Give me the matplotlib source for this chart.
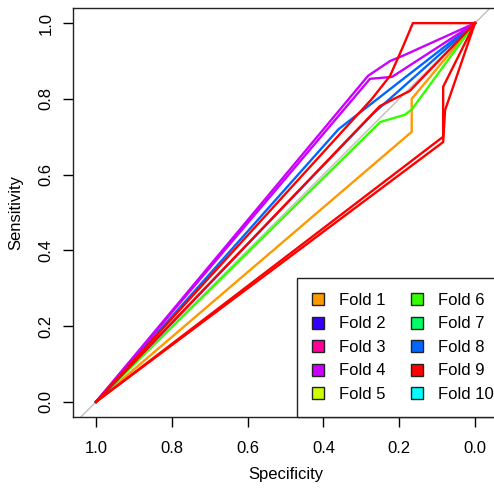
import matplotlib
matplotlib.use("Agg")
import matplotlib.pyplot as plt
from matplotlib.patches import Patch

plt.rcParams['font.family'] = ['Liberation Sans', 'DejaVu Sans']

# legend entries (R rainbow(10) palette)
fold_labels = ["Fold 1", "Fold 2", "Fold 3", "Fold 4", "Fold 5",
               "Fold 6", "Fold 7", "Fold 8", "Fold 9", "Fold 10"]
fold_colors = ["#FF9900", "#3300FF", "#FF0099", "#CC00FF", "#CCFF00",
               "#33FF00", "#00FF66", "#0066FF", "#FF0000", "#00FFFF"]

# ROC curves (specificity, sensitivity)
orange_spec = [1.0, 0.167, 0.167, 0.0]
orange_sens = [0.0, 0.713, 0.800, 1.0]

green_spec = [1.0, 0.250, 0.185, 0.166, 0.0]
green_sens = [0.0, 0.739, 0.758, 0.773, 1.0]

blue_a_spec = [1.0, 0.360, 0.0]
blue_a_sens = [0.0, 0.720, 1.0]
blue_b_spec = [1.0, 0.270, 0.0]
blue_b_sens = [0.0, 0.760, 1.0]

purple_a_spec = [1.0, 0.282, 0.224, 0.190, 0.0]
purple_a_sens = [0.0, 0.861, 0.900, 0.914, 1.0]
purple_b_spec = [1.0, 0.277, 0.219, 0.0]
purple_b_sens = [0.0, 0.853, 0.858, 1.0]

red_a_spec = [1.0, 0.272, 0.224, 0.190, 0.164, 0.0]
red_a_sens = [0.0, 0.800, 0.861, 0.938, 1.0, 1.0]
red_b_spec = [1.0, 0.251, 0.172, 0.0]
red_b_sens = [0.0, 0.781, 0.821, 1.0]
red_c_spec = [1.0, 0.084, 0.084, 0.0]
red_c_sens = [0.0, 0.700, 0.832, 1.0]
red_d_spec = [1.0, 0.084, 0.079, 0.0]
red_d_sens = [0.0, 0.686, 0.770, 1.0]

curves = [
    (orange_spec, orange_sens, "#FF9900"),
    (green_spec, green_sens, "#33FF00"),
    (blue_a_spec, blue_a_sens, "#0066FF"),
    (blue_b_spec, blue_b_sens, "#0066FF"),
    (purple_a_spec, purple_a_sens, "#CC00FF"),
    (purple_b_spec, purple_b_sens, "#CC00FF"),
    (red_a_spec, red_a_sens, "#FF0000"),
    (red_b_spec, red_b_sens, "#FF0000"),
    (red_c_spec, red_c_sens, "#FF0000"),
    (red_d_spec, red_d_sens, "#FF0000"),
]

fig = plt.figure(figsize=(4.94, 4.90), dpi=100)
ax = fig.add_axes([0.1478, 0.149, 0.8603, 0.8347])

ax.axline((1, 0), (0, 1), color="#BEBEBE", lw=1, zorder=1)
for s, y, c in curves:
    ax.plot(s, y, color=c, lw=1.7, zorder=2)

ax.set_xlim(1.0607, -0.0607)
ax.set_ylim(-0.04, 1.04)
ax.set_xticks([1.0, 0.8, 0.6, 0.4, 0.2, 0.0])
ax.set_yticks([0.0, 0.2, 0.4, 0.6, 0.8, 1.0])
ax.set_xticklabels(["1.0", "0.8", "0.6", "0.4", "0.2", "0.0"])
ax.set_yticklabels(["0.0", "0.2", "0.4", "0.6", "0.8", "1.0"], rotation=90, va="center")
ax.tick_params(axis="x", length=7, width=1, pad=10.5, labelsize=12)
ax.tick_params(axis="y", length=7, width=1, pad=7, labelsize=12)
for sp in ax.spines.values():
    sp.set_color("#222222")
    sp.set_linewidth(1)

ax.set_xlabel("Specificity", fontsize=12, labelpad=8)
ax.set_ylabel("Sensitivity", fontsize=12, labelpad=11)

handles = [Patch(facecolor=c, edgecolor="#222222", lw=1) for c in fold_colors]
leg = ax.legend(handles, fold_labels, ncol=2, loc="lower left",
                bbox_to_anchor=(0.527, 0.0), borderaxespad=0,
                fontsize=12, frameon=True, fancybox=False, framealpha=1,
                edgecolor="#222222", handlelength=0.72, handleheight=0.72,
                handletextpad=0.9, columnspacing=1.5, labelspacing=0.51,
                borderpad=0.9)
leg.get_frame().set_linewidth(1)

fig.savefig("out.png", dpi=100)
